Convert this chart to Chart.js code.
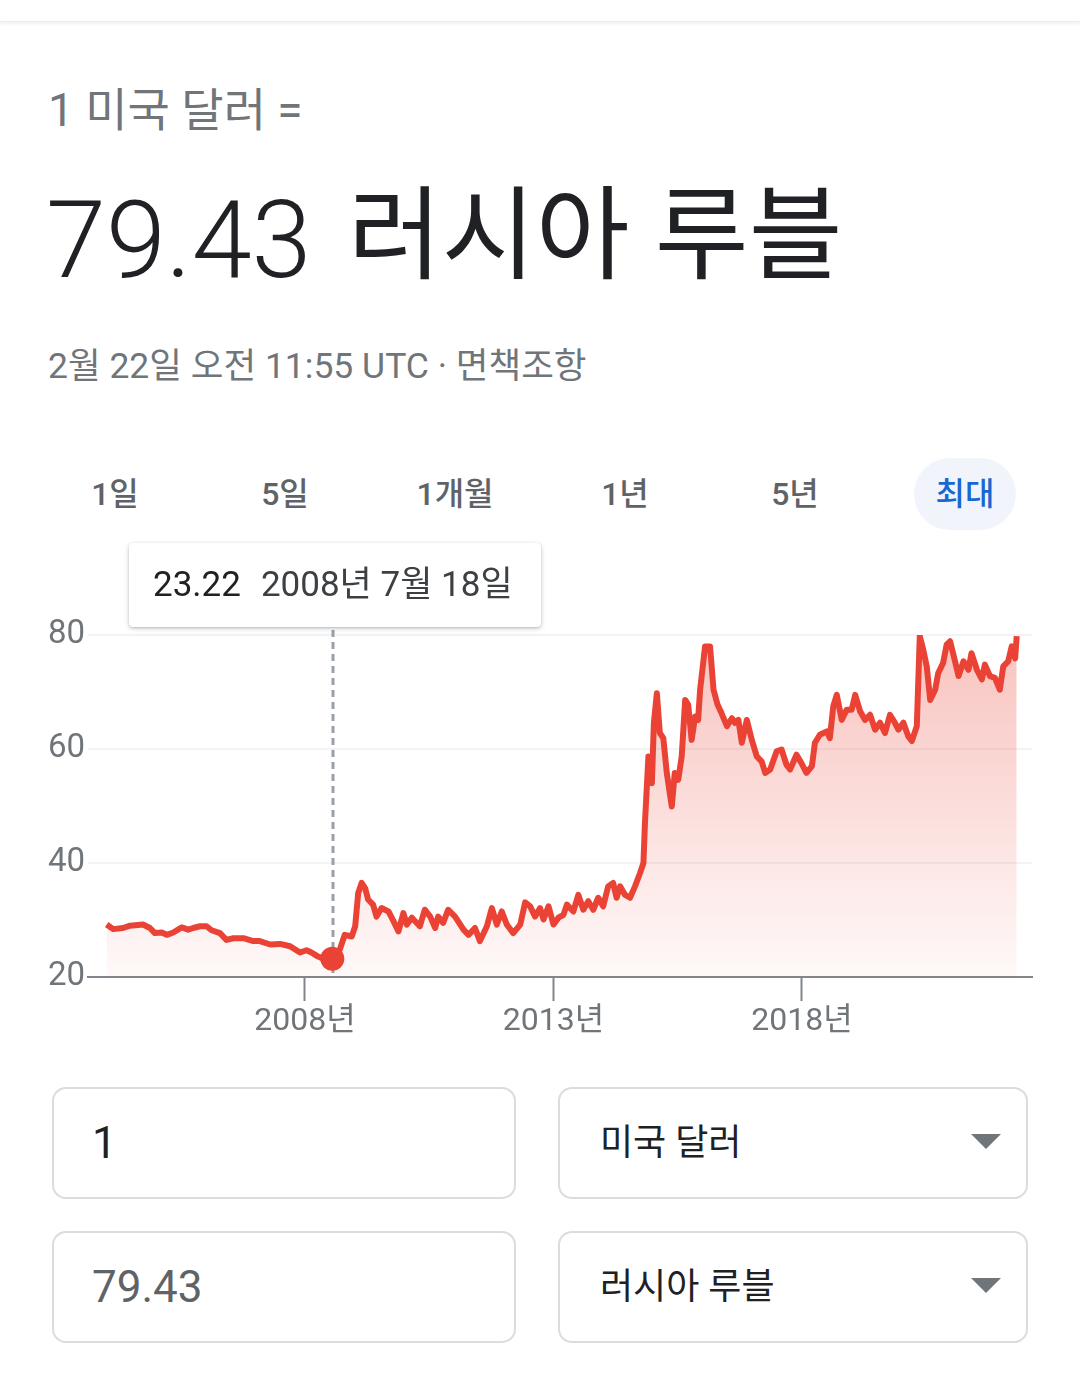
<!DOCTYPE html>
<html lang="ko">
<head>
<meta charset="UTF-8">
<meta name="viewport" content="width=device-width, initial-scale=1.0">
<title>미국 달러 - 러시아 루블 환율</title>
<script src="https://cdn.jsdelivr.net/npm/chart.js"></script>
<style>
    body {
        margin: 0;
        width: 1080px;
        height: 1376px;
        background: #fff;
        position: relative;
        overflow: hidden;
        font-family: Roboto, "Noto Sans CJK KR", sans-serif;
    }

    .topbar {
        position: absolute;
        left: 0; top: 0;
        width: 1080px; height: 21px;
        background: #fff;
        border-bottom: 1px solid #ececec;
        box-shadow: 0 2px 4px rgba(0,0,0,0.06);
    }

    .from {
        position: absolute;
        left: 48px; top: 87px;
        font-size: 46px; line-height: 46px;
        color: #70757a;
        white-space: nowrap;
    }

    .big {
        position: absolute;
        color: #202124;
        white-space: nowrap;
    }
    .big.num { left: 46px; top: 185px; font-size: 108px; line-height: 110px; font-weight: 300; }
    .big.cur { left: 348px; top: 181px; font-size: 102px; line-height: 110px; }

    .stamp {
        position: absolute;
        left: 48px; top: 348px;
        font-size: 35.5px; line-height: 36px;
        color: #70757a;
        white-space: nowrap;
    }

    .tabs {
        position: absolute;
        left: 30px; top: 458px;
        display: flex;
    }
    .tab {
        width: 170px; height: 72px;
        line-height: 72px;
        text-align: center;
        font-size: 32px;
        font-weight: 500;
        color: #5f6368;
    }
    .tab span {
        display: inline-block;
        width: 102px; height: 72px;
        border-radius: 36px;
    }
    .tab.active span {
        background: #f1f5fb;
        color: #1967d2;
    }

    .tip {
        position: absolute;
        left: 129px; top: 543px;
        width: 412px; height: 84px;
        background: #fff;
        border-radius: 4px;
        box-shadow: 0 1px 3px rgba(60,64,67,0.3), 0 2px 6px rgba(60,64,67,0.12);
        font-size: 35px; line-height: 84px;
        white-space: nowrap;
        z-index: 2;
    }
    .tip .v { margin-left: 24px; color: #202124; }
    .tip .d { margin-left: 20px; color: #3c4043; }

    .chart-box {
        position: absolute;
        left: 0; top: 603px;
        width: 1080px; height: 460px;
    }

    .field {
        position: absolute;
        box-sizing: border-box;
        border: 2px solid #dadce0;
        border-radius: 14px;
        height: 112px;
        white-space: nowrap;
    }
    .field.amount { left: 52px; width: 464px; font-size: 44px; line-height: 108px; padding-left: 38px; }
    .field.unit { left: 558px; width: 470px; font-size: 36px; line-height: 108px; padding-left: 40px; color: #202124; }
    .field.row1 { top: 1087px; }
    .field.row2 { top: 1231px; }
    .field .arrow {
        position: absolute;
        right: 25px; top: 45px;
        width: 0; height: 0;
        border-left: 15px solid transparent;
        border-right: 15px solid transparent;
        border-top: 15px solid #70757a;
    }
</style>
</head>
<body>
    <div class="topbar"></div>

    <div class="from">1 미국 달러 =</div>
    <div class="big num">79.43</div>
    <div class="big cur">러시아 루블</div>
    <div class="stamp">2월 22일 오전 11:55 UTC · 면책조항</div>

    <div class="tabs">
        <div class="tab"><span>1일</span></div>
        <div class="tab"><span>5일</span></div>
        <div class="tab"><span>1개월</span></div>
        <div class="tab"><span>1년</span></div>
        <div class="tab"><span>5년</span></div>
        <div class="tab active"><span>최대</span></div>
    </div>

    <div class="tip"><span class="v">23.22</span><span class="d">2008년 7월 18일</span></div>

    <div class="chart-box">
        <canvas id="rateChart" width="1080" height="460"></canvas>
    </div>

    <div class="field amount row1" style="color:#202124">1</div>
    <div class="field unit row1">미국 달러<div class="arrow"></div></div>
    <div class="field amount row2" style="color:#5f6368">79.43</div>
    <div class="field unit row2">러시아 루블<div class="arrow"></div></div>

<script>
    // 날짜 (소수 연도) / 환율 (루블)
    const rateDates = [
        2004.01, 2004.14, 2004.34, 2004.48, 2004.74, 2004.88, 2004.98, 2005.12, 2005.22, 2005.35,
        2005.52, 2005.65, 2005.75, 2005.89, 2006.02, 2006.12, 2006.29, 2006.42, 2006.56, 2006.76,
        2006.96, 2007.09, 2007.30, 2007.50, 2007.70, 2007.90, 2008.03, 2008.13, 2008.24, 2008.37,
        2008.47, 2008.55, 2008.70, 2008.80, 2008.94, 2009.01, 2009.07, 2009.14, 2009.21, 2009.27,
        2009.37, 2009.44, 2009.54, 2009.68, 2009.78, 2009.88, 2009.98, 2010.05, 2010.15, 2010.31,
        2010.41, 2010.52, 2010.62, 2010.68, 2010.78, 2010.88, 2011.02, 2011.19, 2011.29, 2011.42,
        2011.52, 2011.66, 2011.76, 2011.86, 2011.96, 2012.06, 2012.19, 2012.33, 2012.43, 2012.53,
        2012.63, 2012.73, 2012.80, 2012.90, 2013.00, 2013.10, 2013.20, 2013.27, 2013.40, 2013.50,
        2013.60, 2013.70, 2013.80, 2013.90, 2014.00, 2014.10, 2014.20, 2014.27, 2014.34, 2014.44,
        2014.54, 2014.64, 2014.74, 2014.81, 2014.84, 2014.91, 2014.98, 2015.02, 2015.08, 2015.14,
        2015.21, 2015.28, 2015.38, 2015.44, 2015.51, 2015.58, 2015.65, 2015.71, 2015.78, 2015.85,
        2015.91, 2015.95, 2016.05, 2016.15, 2016.22, 2016.30, 2016.38, 2016.49, 2016.59, 2016.65,
        2016.72, 2016.79, 2016.89, 2016.99, 2017.09, 2017.19, 2017.26, 2017.36, 2017.49, 2017.59,
        2017.69, 2017.76, 2017.89, 2017.99, 2018.09, 2018.20, 2018.26, 2018.36, 2018.50, 2018.56,
        2018.63, 2018.70, 2018.80, 2018.90, 2019.00, 2019.07, 2019.17, 2019.27, 2019.37, 2019.47,
        2019.57, 2019.67, 2019.77, 2019.87, 2019.94, 2020.04, 2020.14, 2020.21, 2020.31, 2020.37,
        2020.44, 2020.51, 2020.58, 2020.68, 2020.74, 2020.84, 2020.91, 2020.98, 2021.04, 2021.15,
        2021.25, 2021.35, 2021.41, 2021.52, 2021.62, 2021.68, 2021.78, 2021.88, 2021.98, 2022.05,
        2022.15, 2022.22, 2022.29, 2022.32
    ];
    const rateValues = [
        29.2, 28.4, 28.6, 29.0, 29.2, 28.6, 27.7, 27.8, 27.4, 27.8,
        28.7, 28.3, 28.6, 28.9, 28.9, 28.2, 27.7, 26.5, 26.8, 26.8,
        26.3, 26.3, 25.7, 25.8, 25.4, 24.3, 24.7, 24.3, 23.7, 23.2,
        23.0, 23.22, 24.8, 27.4, 27.1, 28.9, 34.7, 36.5, 35.6, 33.6,
        32.7, 30.6, 32.1, 31.5, 29.8, 28.0, 31.2, 29.2, 30.4, 28.9,
        31.8, 30.6, 28.6, 30.6, 29.5, 31.8, 30.6, 28.3, 27.4, 28.6,
        26.3, 28.9, 32.1, 29.2, 31.5, 29.2, 27.7, 29.2, 33.1, 32.4,
        30.6, 32.1, 30.1, 32.4, 29.2, 30.4, 30.9, 32.7, 31.5, 34.4,
        31.8, 33.3, 31.8, 33.9, 32.4, 35.9, 36.5, 33.9, 35.9, 34.4,
        33.9, 35.9, 38.2, 40.0, 47.0, 58.7, 54.0, 64.6, 69.8, 62.8,
        61.9, 55.8, 49.9, 55.8, 54.6, 58.7, 68.6, 67.8, 61.6, 65.7,
        65.1, 70.4, 78.0, 78.0, 70.4, 67.8, 66.3, 64.0, 65.4, 64.6,
        65.1, 61.1, 65.1, 61.6, 58.7, 57.8, 55.8, 56.4, 59.6, 59.9,
        57.2, 56.4, 59.0, 57.5, 55.8, 57.0, 61.1, 62.5, 63.1, 61.9,
        67.5, 69.5, 65.1, 66.9, 66.9, 69.5, 66.6, 65.1, 66.0, 63.4,
        64.6, 62.8, 66.0, 64.6, 63.4, 64.6, 62.2, 61.4, 64.0, 79.8,
        77.4, 74.5, 68.6, 70.4, 73.3, 75.1, 78.3, 78.9, 76.8, 72.8,
        75.4, 73.9, 76.8, 73.9, 72.2, 74.8, 72.8, 72.5, 70.4, 74.5,
        75.4, 78.0, 75.9, 79.8
    ];
    const xTicks = [2008, 2013, 2018];
    const yTicks = [20, 40, 60, 80];
    const markerDate = 2008.55; // 2008년 7월 18일, 23.22

    const X_MIN = 2003.634;
    const X_MAX = 2022.628;
    const markerIndex = rateDates.indexOf(markerDate);

    // 선택된 날짜의 점선
    const markerLine = {
        id: 'markerLine',
        beforeDatasetsDraw(chart) {
            const { ctx, chartArea, scales } = chart;
            const x = Math.round(scales.x.getPixelForValue(markerDate)) + 1;
            ctx.save();
            ctx.strokeStyle = '#9aa0a6';
            ctx.lineWidth = 3;
            ctx.setLineDash([7, 5]);
            ctx.beginPath();
            ctx.moveTo(x, chartArea.top - 5);
            ctx.lineTo(x, chartArea.bottom);
            ctx.stroke();
            ctx.restore();
        }
    };

    const ctx = document.getElementById('rateChart').getContext('2d');
    new Chart(ctx, {
        type: 'line',
        data: {
            datasets: [{
                data: rateDates.map((d, i) => ({ x: d, y: rateValues[i] })),
                borderColor: '#ea4335',
                borderWidth: 6,
                borderJoinStyle: 'round',
                tension: 0,
                pointRadius: c => (c.dataIndex === markerIndex ? 12 : 0),
                pointHoverRadius: 0,
                pointBorderWidth: 0,
                pointBackgroundColor: '#ea4335',
                fill: 'start',
                backgroundColor: c => {
                    const area = c.chart.chartArea;
                    if (!area) return 'rgba(234,67,53,0.1)';
                    const g = c.chart.ctx.createLinearGradient(0, area.top, 0, area.bottom);
                    g.addColorStop(0, 'rgba(234,67,53,0.32)');
                    g.addColorStop(1, 'rgba(234,67,53,0.03)');
                    return g;
                }
            }]
        },
        options: {
            responsive: false,
            animation: false,
            layout: { padding: { left: 0, right: 48, top: 32, bottom: 0 } },
            plugins: {
                legend: { display: false },
                tooltip: { enabled: false }
            },
            scales: {
                x: {
                    type: 'linear',
                    min: X_MIN,
                    max: X_MAX,
                    afterBuildTicks: s => { s.ticks = xTicks.map(v => ({ value: v })); },
                    afterFit: s => { s.height = 86; },
                    ticks: {
                        autoSkip: false,
                        maxRotation: 0,
                        padding: 2,
                        color: '#70757a',
                        font: { family: 'Roboto, "Noto Sans CJK KR"', size: 32 },
                        callback: v => v + '년'
                    },
                    grid: {
                        drawOnChartArea: false,
                        tickLength: 24,
                        tickWidth: 2,
                        tickColor: '#80868b'
                    },
                    border: { display: true, color: '#80868b', width: 2 }
                },
                y: {
                    min: 20,
                    max: 80,
                    afterBuildTicks: s => { s.ticks = yTicks.map(v => ({ value: v })); },
                    afterFit: s => { s.width = 88; },
                    ticks: {
                        padding: 3,
                        color: '#70757a',
                        font: { family: 'Roboto', size: 33 }
                    },
                    grid: { color: '#f1f3f4', lineWidth: 2, drawTicks: false },
                    border: { display: false }
                }
            }
        },
        plugins: [markerLine]
    });
</script>
</body>
</html>
